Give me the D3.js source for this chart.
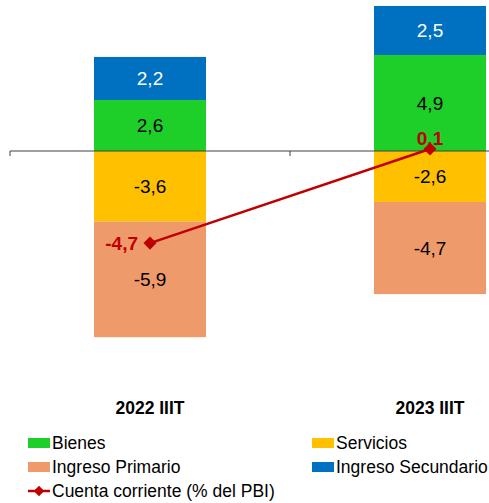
<!DOCTYPE html>
<html>
<head>
<meta charset="utf-8">
<script src="https://cdn.jsdelivr.net/npm/d3@7"></script>
<style>
  body { margin: 0; background: #fff; }
  text { font-family: "Liberation Sans", Arial, sans-serif; }
</style>
</head>
<body>
<div id="chart-area"></div>
<script>
// data
var categories = ["2022 IIIT", "2023 IIIT"]
var bienes = [2.6, 4.9]
var servicios = [-3.6, -2.6]
var ingresoPrimario = [-5.9, -4.7]
var ingresoSecundario = [2.2, 2.5]
var cuentaCorriente = [-4.7, 0.1]

var keys = ["Bienes", "Servicios", "Ingreso Primario", "Ingreso Secundario"]
var colors = {
  "Bienes": "#1ecf2a",
  "Servicios": "#ffc000",
  "Ingreso Primario": "#ee9a6a",
  "Ingreso Secundario": "#0070c0"
}
var labelColors = { "Ingreso Secundario": "#fff" }

var width = 489
var height = 503

var svg = d3.select("#chart-area")
  .append("svg")
  .attr("width", width)
  .attr("height", height)

var rows = categories.map((c, i) => {
  return {
    cat: c,
    "Bienes": bienes[i],
    "Servicios": servicios[i],
    "Ingreso Primario": ingresoPrimario[i],
    "Ingreso Secundario": ingresoSecundario[i]
  }
})

var x = d3.scaleBand()
  .domain(categories)
  .range([10, 570])
  .padding(0)

var barW = x.bandwidth() * 0.4

var y = d3.scaleLinear()
  .domain([-10, 8])
  .range([151 + 10 * 19.6, 151 - 8 * 19.6])

var fmt = (v) => d3.format(".1f")(v).replace(".", ",").replace("\u2212", "-")

var stack = d3.stack().keys(keys).offset(d3.stackOffsetDiverging)
var series = stack(rows)

var layers = svg.selectAll("g.layer")
  .data(series)
  .enter().append("g")
  .attr("class", "layer")
  .attr("fill", (d) => colors[d.key])

layers.selectAll("rect")
  .data((d) => d)
  .enter().append("rect")
  .attr("x", (d) => x(d.data.cat) + (x.bandwidth() - barW) / 2)
  .attr("y", (d) => y(d[1]))
  .attr("width", barW)
  .attr("height", (d) => y(d[0]) - y(d[1]))

// segment labels
series.forEach((s) => {
  svg.selectAll(null)
    .data(s)
    .enter().append("text")
    .attr("x", (d) => x(d.data.cat) + x.bandwidth() / 2)
    .attr("y", (d) => (y(d[0]) + y(d[1])) / 2)
    .attr("dy", "0.36em")
    .attr("text-anchor", "middle")
    .attr("font-size", "19px")
    .attr("fill", labelColors[s.key] || "#000")
    .text((d) => fmt(d.data[s.key]))
})

// zero axis
var axis = d3.axisBottom(x).tickSize(5).tickSizeOuter(5).tickFormat("")
var axisG = svg.append("g")
  .attr("transform", "translate(0," + y(0) + ")")
  .call(axis)
axisG.select(".domain").attr("stroke", "#404040").attr("d", "M10,5V0H570")
axisG.selectAll(".tick").remove()
axisG.append("line")
  .attr("x1", x(categories[1])).attr("x2", x(categories[1]))
  .attr("y1", 0).attr("y2", 5)
  .attr("stroke", "#404040")

// category labels
svg.selectAll(null)
  .data(categories)
  .enter().append("text")
  .attr("x", (d) => x(d) + x.bandwidth() / 2)
  .attr("y", 414)
  .attr("text-anchor", "middle")
  .attr("font-size", "17.5px")
  .attr("font-weight", "bold")
  .text((d) => d)

// current account line
var red = "#c00000"
var pts = categories.map((c, i) => [x(c) + x.bandwidth() / 2, y(cuentaCorriente[i])])

svg.append("path")
  .attr("d", d3.line()(pts))
  .attr("fill", "none")
  .attr("stroke", red)
  .attr("stroke-width", 2.5)

var diamond = d3.symbol().type(d3.symbolSquare).size(85)
svg.selectAll(null)
  .data(pts)
  .enter().append("path")
  .attr("d", diamond)
  .attr("transform", (d) => "translate(" + d[0] + "," + d[1] + ") rotate(45)")
  .attr("fill", red)

svg.append("text")
  .attr("x", pts[0][0] - 12)
  .attr("y", pts[0][1])
  .attr("dy", "0.36em")
  .attr("text-anchor", "end")
  .attr("font-size", "19px")
  .attr("font-weight", "bold")
  .attr("fill", red)
  .text(fmt(cuentaCorriente[0]))

svg.append("text")
  .attr("x", pts[1][0])
  .attr("y", pts[1][1] - 4)
  .attr("text-anchor", "middle")
  .attr("font-size", "19px")
  .attr("font-weight", "bold")
  .attr("fill", red)
  .text(fmt(cuentaCorriente[1]))

// legend
var legendItems = [
  { name: "Bienes", x: 28, y: 443 },
  { name: "Servicios", x: 312, y: 443 },
  { name: "Ingreso Primario", x: 28, y: 467 },
  { name: "Ingreso Secundario", x: 312, y: 467 }
]
var lg = svg.selectAll("g.legend")
  .data(legendItems)
  .enter().append("g")
  .attr("class", "legend")
  .attr("transform", (d) => "translate(" + d.x + "," + d.y + ")")
lg.append("rect")
  .attr("x", 0).attr("y", -5)
  .attr("width", 22).attr("height", 10)
  .attr("fill", (d) => colors[d.name])
lg.append("text")
  .attr("x", 24).attr("dy", "0.36em")
  .attr("font-size", "17.5px")
  .text((d) => d.name)

var ll = svg.append("g").attr("transform", "translate(28,491)")
ll.append("line")
  .attr("x1", 0).attr("x2", 22)
  .attr("stroke", red).attr("stroke-width", 2.5)
ll.append("path")
  .attr("d", d3.symbol().type(d3.symbolSquare).size(55))
  .attr("transform", "translate(11,0) rotate(45)")
  .attr("fill", red)
ll.append("text")
  .attr("x", 24).attr("dy", "0.36em")
  .attr("font-size", "17.5px")
  .text("Cuenta corriente (% del PBI)")
</script>
</body>
</html>
